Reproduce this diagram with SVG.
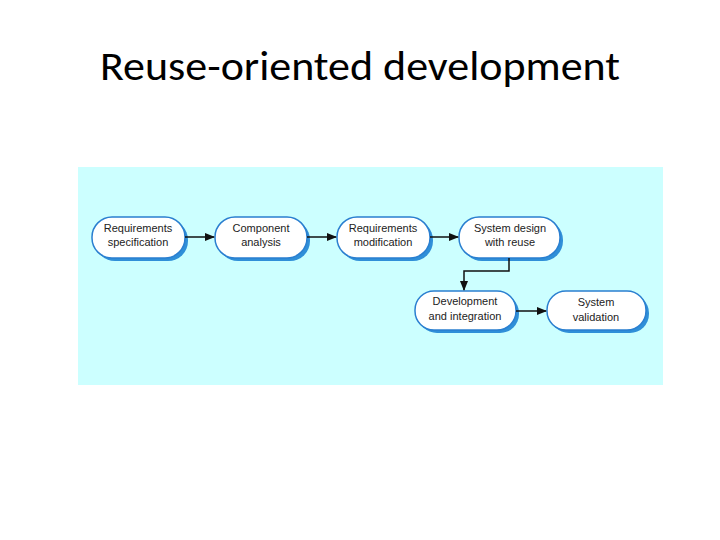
<svg xmlns="http://www.w3.org/2000/svg" width="720" height="540" viewBox="0 0 720 540">
<style>
.sh{fill:#2f8fd8}
.bx{fill:#fff;stroke:#2a7fd0;stroke-width:1.5}
.t{font-family:"Liberation Sans",Arial,sans-serif;font-size:11px;fill:#222;text-anchor:middle}
.c{stroke:#111;stroke-width:1.5;fill:none;marker-end:url(#a)}
</style>
<defs><marker id="a" markerWidth="10" markerHeight="8" refX="9" refY="4" orient="auto" markerUnits="userSpaceOnUse"><path d="M0,0 L10,4 L0,8 Z" fill="#111"/></marker></defs>
<rect width="720" height="540" fill="#fff"/>
<text x="100" y="80" font-family="Carlito,'Liberation Sans',sans-serif" font-size="40" textLength="520" lengthAdjust="spacingAndGlyphs" fill="#000">Reuse-oriented development</text>
<rect x="78" y="167" width="585" height="218" fill="#ccffff"/>
<g id="n1"><rect class="sh" x="95" y="220" width="93" height="41" rx="20"/><rect class="bx" x="92" y="217" width="93" height="41" rx="20"/><text class="t" x="138" y="232">Requirements</text><text class="t" x="138" y="246">specification</text></g>
<g id="n2"><rect class="sh" x="218" y="220" width="92" height="41" rx="20"/><rect class="bx" x="215" y="217" width="92" height="41" rx="20"/><text class="t" x="261" y="232">Component</text><text class="t" x="261" y="246">analysis</text></g>
<g id="n3"><rect class="sh" x="340" y="220" width="93" height="41" rx="20"/><rect class="bx" x="337" y="217" width="93" height="41" rx="20"/><text class="t" x="383" y="232">Requirements</text><text class="t" x="383" y="246">modification</text></g>
<g id="n4"><rect class="sh" x="462" y="220" width="101" height="41" rx="20"/><rect class="bx" x="459" y="217" width="101" height="41" rx="20"/><text class="t" x="510" y="232">System design</text><text class="t" x="510" y="246">with reuse</text></g>
<g id="n5"><rect class="sh" x="418" y="294" width="101" height="39" rx="19"/><rect class="bx" x="415" y="291" width="101" height="39" rx="19"/><text class="t" x="465" y="305">Development</text><text class="t" x="465" y="320">and integration</text></g>
<g id="n6"><rect class="sh" x="550" y="294" width="99" height="39" rx="19"/><rect class="bx" x="547" y="291" width="99" height="39" rx="19"/><text class="t" x="596" y="306">System</text><text class="t" x="596" y="321">validation</text></g>
<g id="connectors">
<path class="c" d="M185,237 H214"/>
<path class="c" d="M307,237 H336"/>
<path class="c" d="M430,237 H458"/>
<path class="c" d="M509,258 V271 H464 V290"/>
<path class="c" d="M516,311 H546"/>
</g>
</svg>
